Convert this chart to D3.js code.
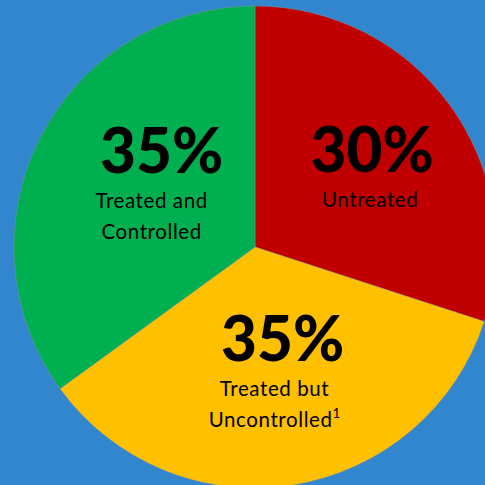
<!DOCTYPE html>
<html>
<head>
<meta charset="utf-8">
<script src="https://cdn.jsdelivr.net/npm/d3@7"></script>
<style>
  html, body { margin: 0; padding: 0; background: #3286ce; }
  svg { display: block; }
</style>
</head>
<body>
<svg id="chart" width="485" height="485"></svg>
<script>
// Hypertension treatment status shares (percent)
const categories = ["Untreated", "Treated but Uncontrolled", "Treated and Controlled"];
const values = [30, 35, 35];
const labelLines = [["Untreated"], ["Treated but", "Uncontrolled"], ["Treated and", "Controlled"]];
const footnotes = ["", "1", ""];
const colors = ["#c00000", "#ffc000", "#00b050"];

const W = 485, H = 485;
const cx = 255, cy = 247, R = 241;

const svg = d3.select("#chart");
svg.append("rect").attr("width", W).attr("height", H).attr("fill", "#3286ce");

const pie = d3.pie().value(d => d.value).sort(null);
const arcs = pie(categories.map((c, i) => ({ name: c, value: values[i], lines: labelLines[i], note: footnotes[i], color: colors[i] })));

const arc = d3.arc().innerRadius(0).outerRadius(R);
const labelArc = d3.arc().innerRadius(125).outerRadius(125);

const g = svg.append("g").attr("transform", `translate(${cx},${cy})`);

g.selectAll("path.slice")
  .data(arcs)
  .join("path")
  .attr("class", "slice")
  .attr("d", arc)
  .attr("fill", d => d.data.color)
  .attr("stroke", "rgba(150,150,150,0.6)")
  .attr("stroke-width", 0.6);

// small per-slice nudges for the text blocks
const nudge = [[16, -2], [8, -9], [18, -17]];
const lineNudge = [-2, -8, -10];

const labels = g.selectAll("g.label")
  .data(arcs)
  .join("g")
  .attr("class", "label")
  .attr("transform", (d, i) => {
    const [x, y] = labelArc.centroid(d);
    return `translate(${x + nudge[i][0]},${y + nudge[i][1]})`;
  });

labels.append("text")
  .attr("text-anchor", "middle")
  .attr("font-family", "Lato, 'Open Sans', sans-serif")
  .attr("font-weight", 900)
  .attr("font-size", 62)
  .attr("fill", "#000")
  .text(d => d3.format(".0f")(d.data.value) + "%");

labels.each(function(d, i) {
  const t = d3.select(this).append("text")
    .attr("text-anchor", "middle")
    .attr("font-family", "Lato, 'Open Sans', sans-serif")
    .attr("font-size", 20.5)
    .attr("letter-spacing", 0.6)
    .attr("fill", "#000");
  d.data.lines.forEach((ln, k) => {
    t.append("tspan")
      .attr("x", lineNudge[i])
      .attr("y", 35 + k * 30.5)
      .text(ln);
    if (k === d.data.lines.length - 1 && d.data.note) {
      t.append("tspan")
        .attr("dy", -9)
        .attr("font-size", 13.5)
        .attr("letter-spacing", 0)
        .text(d.data.note);
    }
  });
});
</script>
</body>
</html>
